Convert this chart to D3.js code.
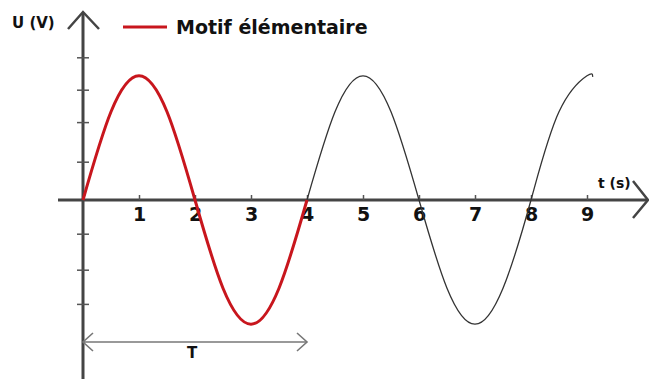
<!DOCTYPE html>
<html lang="fr">
<head>
    <meta charset="UTF-8">
    <title>Motif élémentaire</title>
    <style>
        body { margin: 0; background: #fff; }
        svg { display: block; }
        text { font-family: "Comic Sans MS", "DejaVu Sans", sans-serif; font-weight: bold; fill: #111; }
    </style>
</head>
<body>
    <script src="https://d3js.org/d3.v7.min.js"></script>
    <script>
        const width = 649;
        const height = 379;

        // motif élémentaire (une période)
        const motifT = [0, 0.5, 1, 1.5, 2, 2.5, 3, 3.5, 4];
        const motifU = [0, 2.45, 3.45, 2.45, 0, -2.45, -3.45, -2.45, 0];
        // suite du signal
        const suiteT = [4, 4.5, 5, 5.5, 6, 6.5, 7, 7.5, 8, 8.5, 9, 9.1];
        const suiteU = [0, 2.45, 3.45, 2.45, 0, -2.45, -3.45, -2.45, 0, 2.45, 3.45, 3.42];

        const xTicks = [1, 2, 3, 4, 5, 6, 7, 8, 9];
        const yTicks = [-2.9, -1.95, -0.95, 1.05, 2.15, 3.05, 3.95];
        const periode = 4;

        const svg = d3.select('body').append('svg')
            .attr('width', width)
            .attr('height', height);

        const x = d3.scaleLinear().domain([0, 9]).range([83, 587]);
        const y = d3.scaleLinear().domain([-1, 1]).range([236, 164]);

        const axisColor = '#444';

        // axe horizontal
        svg.append('line')
            .attr('x1', 58).attr('x2', 648)
            .attr('y1', y(0)).attr('y2', y(0))
            .attr('stroke', axisColor).attr('stroke-width', 3);
        svg.append('path')
            .attr('d', `M633,${y(0) - 19} L648,${y(0)} L633,${y(0) + 18}`)
            .attr('fill', 'none').attr('stroke', axisColor).attr('stroke-width', 2.5);

        // graduations + étiquettes de l'axe t
        const xAxis = d3.axisBottom(x)
            .tickValues(xTicks)
            .tickSizeInner(-5)
            .tickSizeOuter(0)
            .tickPadding(8)
            .tickFormat(d3.format('d'));
        const gx = svg.append('g')
            .attr('transform', `translate(0, ${y(0)})`)
            .call(xAxis);
        gx.select('.domain').remove();
        gx.selectAll('line').attr('stroke', '#555').attr('stroke-width', 1.5);
        gx.selectAll('text')
            .attr('font-family', '"Comic Sans MS", "DejaVu Sans", sans-serif')
            .attr('font-size', 19)
            .attr('font-weight', 'bold')
            .attr('fill', '#111');

        // axe vertical
        svg.append('line')
            .attr('x1', x(0)).attr('x2', x(0))
            .attr('y1', 13).attr('y2', height)
            .attr('stroke', axisColor).attr('stroke-width', 3);
        svg.append('path')
            .attr('d', `M${x(0) - 15},29 L${x(0)},12 L${x(0) + 16},29`)
            .attr('fill', 'none').attr('stroke', axisColor).attr('stroke-width', 2.5);

        svg.append('g').selectAll('line')
            .data(yTicks)
            .join('line')
            .attr('x1', x(0) - 6).attr('x2', x(0) + 6)
            .attr('y1', d => y(d)).attr('y2', d => y(d))
            .attr('stroke', '#555').attr('stroke-width', 1.5);

        // courbes
        const line = d3.line()
            .x(d => x(d[0]))
            .y(d => y(d[1]))
            .curve(d3.curveNatural);

        svg.append('path')
            .datum(d3.zip(suiteT, suiteU))
            .attr('d', line)
            .attr('fill', 'none')
            .attr('stroke', '#333')
            .attr('stroke-width', 1.3);

        svg.append('path')
            .datum(d3.zip(motifT, motifU))
            .attr('d', line)
            .attr('fill', 'none')
            .attr('stroke', '#c8161d')
            .attr('stroke-width', 3);

        // flèche de la période T
        const yT = 342;
        const gT = svg.append('g')
            .attr('stroke', '#777').attr('stroke-width', 1.6).attr('fill', 'none');
        gT.append('line')
            .attr('x1', x(0)).attr('x2', x(periode))
            .attr('y1', yT).attr('y2', yT);
        gT.append('path')
            .attr('d', `M${x(0) + 10},${yT - 9} L${x(0)},${yT} L${x(0) + 10},${yT + 9}`);
        gT.append('path')
            .attr('d', `M${x(periode) - 10},${yT - 9} L${x(periode)},${yT} L${x(periode) - 10},${yT + 9}`);
        svg.append('text')
            .attr('x', x(periode / 2) - 3).attr('y', 358)
            .attr('text-anchor', 'middle')
            .attr('font-size', 15)
            .text('T');

        // libellés des axes
        svg.append('text')
            .attr('x', 12).attr('y', 28)
            .attr('font-size', 15)
            .text('U (V)');
        svg.append('text')
            .attr('x', 598).attr('y', 188)
            .attr('font-size', 14)
            .text('t (s)');

        // légende
        svg.append('line')
            .attr('x1', 123).attr('x2', 167)
            .attr('y1', 27).attr('y2', 27)
            .attr('stroke', '#c8161d').attr('stroke-width', 3);
        svg.append('text')
            .attr('x', 176).attr('y', 34)
            .attr('font-size', 19)
            .text('Motif élémentaire');
    </script>
</body>
</html>
